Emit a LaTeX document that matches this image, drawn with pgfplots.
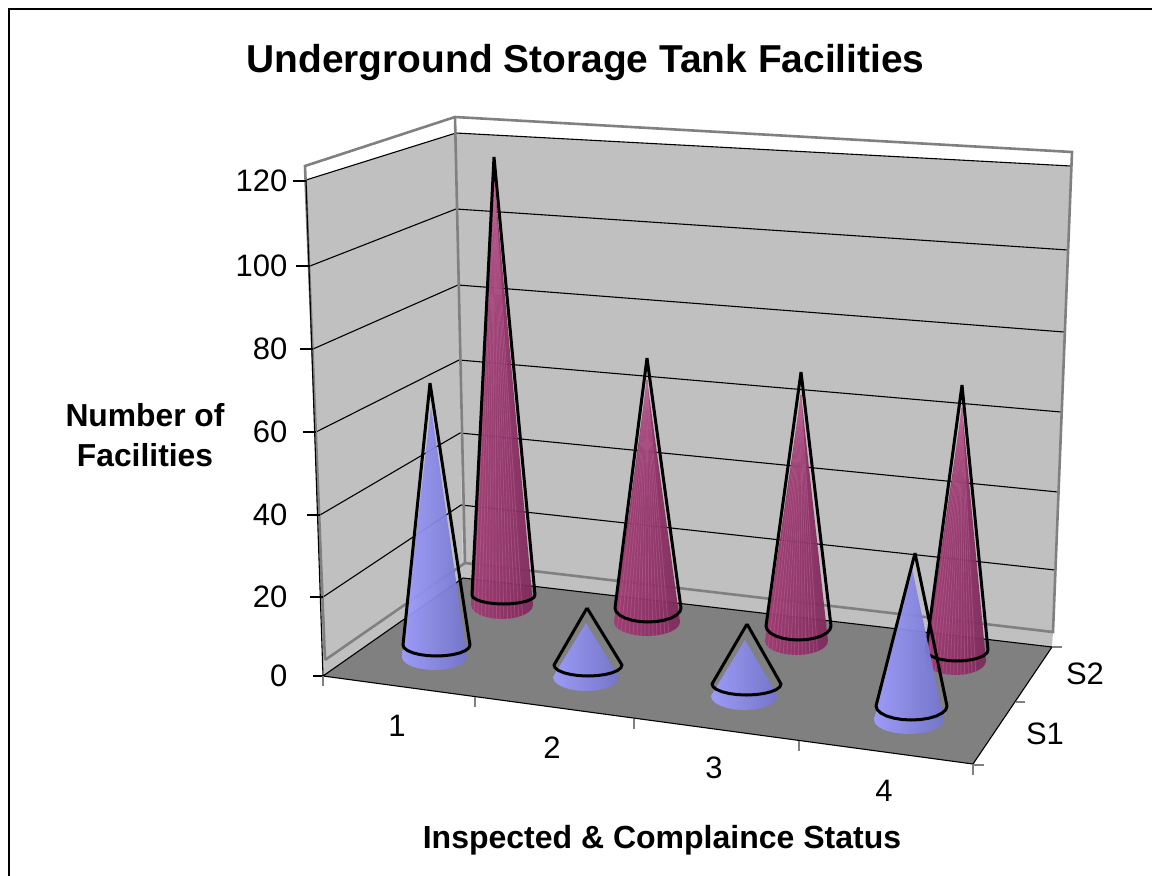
\documentclass[border=0pt]{standalone}
\usepackage{fontspec}
\setmainfont{Liberation Sans}
\usepackage{pgfplots}
\pgfplotsset{compat=1.18}
\definecolor{wallc}{HTML}{C0C0C0}
\definecolor{floorc}{HTML}{808080}
\definecolor{bl}{HTML}{9E9EFF}
\definecolor{bm}{HTML}{9090F0}
\definecolor{br}{HTML}{7474CC}
\definecolor{rl}{HTML}{A03A72}
\definecolor{rm}{HTML}{A23C74}
\definecolor{rr}{HTML}{7F2A5C}
\definecolor{rs}{HTML}{C4689A}
\pgfplotsset{
  bluefill/.style={draw=none,left color=bl,middle color=bm,right color=br,fill opacity=.94},
  redfill/.style={draw=none,left color=rl,middle color=rm,right color=rr,fill opacity=.94},
  outl/.style={draw=black,line width=3pt,line join=round,no marks},
  thinb/.style={draw=black,line width=1.1pt,no marks},
  grayl/.style={draw=floorc,line width=2.6pt,no marks},
  stripe/.style={draw=rs,line width=.8pt,draw opacity=.45,no marks},
}
\tikzset{
  tickl/.style={font=\fontsize{31}{36}\selectfont,anchor=east},
  catl/.style={font=\fontsize{31}{35}\selectfont},
}
% apex x, apex y, left x, right x, y of the widest points, lowest y, style
\newcommand{\cone}[7]{%
  \pgfmathsetmacro\cx{(#3+#4)/2}%
  \pgfmathsetmacro\ca{(#4-#3)/2}%
  \pgfmathsetmacro\cb{#6-#5}%
  \gdef\conepts{}%
  \foreach \c/\s in {.966/.259,.866/.5,.707/.707,.5/.866,.259/.966,0/1,-.259/.966,-.5/.866,-.707/.707,-.866/.5,-.966/.259}{%
    \pgfmathsetmacro\px{\cx-\ca*\c}%
    \pgfmathsetmacro\py{#5+\cb*\s}%
    \xdef\conepts{\conepts (\px,\py)}%
  }%
  \edef\temp{\noexpand\addplot[#7] coordinates {(#1,#2) (#3,#5) \conepts (#4,#5) (#1,#2)};}%
  \temp
}
% the light facet lines of a red cone: apex x, apex y, left x, right x, y of widest points, lowest y
\newcommand{\stripes}[6]{%
  \pgfmathsetmacro\cx{(#3+#4)/2}%
  \pgfmathsetmacro\ca{(#4-#3)/2}%
  \pgfmathsetmacro\cb{#6-#5}%
  \foreach \c/\s in {.9/.436,.78/.626,.66/.751,.54/.842,.42/.908,.3/.954,.18/.984,.06/.998,-.06/.998,-.18/.984,-.3/.954,-.42/.908,-.54/.842,-.66/.751}{%
    \pgfmathsetmacro\px{\cx-\ca*\c}%
    \pgfmathsetmacro\py{#5+\cb*\s}%
    \edef\temp{\noexpand\addplot[stripe] coordinates {(#1,#2) (\px,\py)};}%
    \temp
  }%
}
\begin{document}
\begin{tikzpicture}[x=1pt,y=1pt]
\useasboundingbox (0,0) rectangle (1152,876);
\begin{axis}[
  at={(0,0)},anchor=south west,
  scale only axis,width=1152pt,height=876pt,
  xmin=0,xmax=1152,ymin=0,ymax=876,y dir=reverse,
  hide axis,clip=false]
% chart frame
\addplot[draw=black,line width=2pt,no marks] coordinates {(8.5,876) (8.5,9) (1152,9)};
% walls
\addplot[fill=wallc,draw=none] coordinates {(306,180) (456,133) (463,578) (323,676)} -- cycle;
\addplot[fill=wallc,draw=none] coordinates {(456,133) (1071,166) (1053,632) (1052,647) (463,578)} -- cycle;
% gridlines 120,100,...,20 on left and back walls
\addplot[thinb] coordinates {(306,180) (456,133) (1071,166)};
\addplot[thinb] coordinates {(310,266) (456,209) (1068,250)};
\addplot[thinb] coordinates {(313,349) (458,285) (1064,332)};
\addplot[thinb] coordinates {(316,432) (459,360) (1061,412)};
\addplot[thinb] coordinates {(320,515) (460,433) (1058,492)};
\addplot[thinb] coordinates {(323,597) (461,505) (1055,570)};
% wall frame
\addplot[grayl] coordinates {(325,660) (465,563) (1053,632) (1072,152) (455,117) (305,166) (325,660)};
\addplot[grayl] coordinates {(455,117) (465,563)};
\addplot[draw=black,line width=1.1pt,no marks] coordinates {(306,180) (323,676)};
% floor
\addplot[fill=floorc,draw=black,line width=1.1pt] coordinates {(323,676) (463,578) (1052,647) (973,764)} -- cycle;
% ticks
\addplot[thinb] coordinates {(293,181) (306,181)};
\addplot[thinb] coordinates {(296,266) (310,266)};
\addplot[thinb] coordinates {(300,349) (313,349)};
\addplot[thinb] coordinates {(303,432) (316,432)};
\addplot[thinb] coordinates {(307,515) (320,515)};
\addplot[thinb] coordinates {(310,597) (323,597)};
\addplot[thinb] coordinates {(313,676) (323,676)};
\addplot[draw=floorc,line width=1.1pt,no marks] coordinates {(323,676) (323,686)};
\addplot[draw=floorc,line width=1.1pt,no marks] coordinates {(475,697) (475,707)};
\addplot[draw=floorc,line width=1.1pt,no marks] coordinates {(634,719) (634,729)};
\addplot[draw=floorc,line width=1.1pt,no marks] coordinates {(799,741) (799,751)};
\addplot[draw=floorc,line width=1.1pt,no marks] coordinates {(973,765) (973,775)};
\addplot[draw=floorc,line width=1.1pt,no marks] coordinates {(973,765) (984,765)};
\addplot[draw=floorc,line width=1.1pt,no marks] coordinates {(1016,702) (1025,702)};
\addplot[draw=floorc,line width=1.1pt,no marks] coordinates {(1052,647) (1062,647)};
% S2 cones
\cone{494}{176}{471}{533}{605}{619}{redfill}
\stripes{494}{176}{471}{533}{605}{619}
\cone{494}{157}{472}{535}{595}{604}{outl}
\cone{647}{380}{614}{680}{622}{636}{redfill}
\stripes{647}{380}{614}{680}{622}{636}
\cone{647}{358}{615}{681}{608}{622}{outl}
\cone{801}{395}{765}{828}{641}{655}{redfill}
\stripes{801}{395}{765}{828}{641}{655}
\cone{801}{372}{766}{831}{626}{640}{outl}
\cone{962}{408}{925}{986}{661}{675}{redfill}
\stripes{962}{408}{925}{986}{661}{675}
\cone{962}{385}{926}{988}{650}{661}{outl}
% S1 cones
\cone{431}{407}{402}{467}{657}{670}{bluefill}
\cone{430}{383}{403}{470}{645}{656}{outl}
\cone{586}{623}{553}{619}{677}{691}{bluefill}
\cone{587}{608}{554}{622}{665}{676}{outl}
\cone{745}{640}{711}{778}{696}{710}{bluefill}
\cone{747}{624}{712}{781}{684}{695}{outl}
\cone{912}{568}{874}{944}{720}{734}{bluefill}
\cone{915}{553}{876}{947}{706}{720}{outl}
% text
\node[font=\fontsize{38.9}{46}\bfseries\selectfont] at (axis cs:585.5,63) {Underground Storage Tank Facilities};
\node[font=\fontsize{31.8}{40}\bfseries\selectfont,align=center] at (axis cs:145,435.5) {Number of\\Facilities};
\node[font=\fontsize{32}{38}\bfseries\selectfont] at (axis cs:662,840) {Inspected \& Complaince Status};
\node[tickl] at (axis cs:291,181) {120};
\node[tickl] at (axis cs:291,266) {100};
\node[tickl] at (axis cs:291,349) {80};
\node[tickl] at (axis cs:291,432) {60};
\node[tickl] at (axis cs:291,515) {40};
\node[tickl] at (axis cs:291,597) {20};
\node[tickl] at (axis cs:291,676) {0};
\node[catl] at (axis cs:397,726) {1};
\node[catl] at (axis cs:552,748) {2};
\node[catl] at (axis cs:714,768) {3};
\node[catl] at (axis cs:884,791) {4};
\node[catl] at (axis cs:1045,734) {S1};
\node[catl] at (axis cs:1085,674) {S2};
\end{axis}
\end{tikzpicture}
\end{document}
